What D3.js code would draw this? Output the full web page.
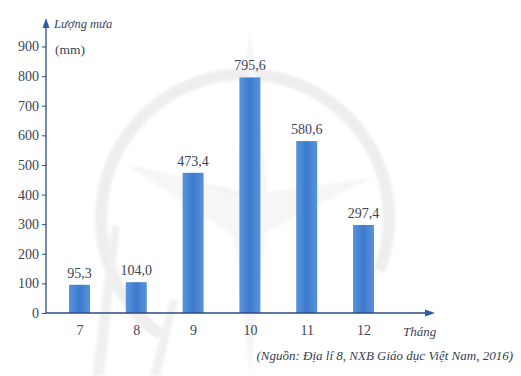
<!DOCTYPE html>
<html>
<head>
<meta charset="utf-8">
<script src="https://cdn.jsdelivr.net/npm/d3@7"></script>
<style>
  html, body { margin: 0; padding: 0; background: #fff; }
  svg { display: block; }
</style>
</head>
<body>
<svg id="chart" width="521" height="376"></svg>
<script>
// Monthly rainfall (mm)
const months = ["7", "8", "9", "10", "11", "12"];
const rainfall = [95.3, 104.0, 473.4, 795.6, 580.6, 297.4];
const valueLabels = ["95,3", "104,0", "473,4", "795,6", "580,6", "297,4"];
const yTicks = [0, 100, 200, 300, 400, 500, 600, 700, 800, 900];

const FONT = "'Liberation Serif', Tinos, 'Times New Roman', serif";

const svg = d3.select("#chart");

const axisColor = "#2d4d7c";
const textColor = "#3c4555";

const y = d3.scaleLinear().domain([0, 900]).range([313, 46.5]);
const x = d3.scalePoint().domain(months).range([79.5, 363.5]);
const barW = 21;

const defs = svg.append("defs");
const grad = defs.append("linearGradient").attr("id", "barGrad")
  .attr("x1", "0").attr("x2", "1").attr("y1", "0").attr("y2", "0");
grad.append("stop").attr("offset", "0%").attr("stop-color", "#5893db");
grad.append("stop").attr("offset", "50%").attr("stop-color", "#3d7acd");
grad.append("stop").attr("offset", "100%").attr("stop-color", "#5893db");

defs.append("filter").attr("id", "soft")
  .append("feGaussianBlur").attr("stdDeviation", 1.5);

// faint background emblem: ring and compass star
const mark = svg.append("g").attr("filter", "url(#soft)");
mark.append("path")
  .attr("d", d3.arc()({innerRadius: 138, outerRadius: 150,
    startAngle: -Math.PI * 0.8, endAngle: Math.PI * 0.62}))
  .attr("transform", "translate(245,218)")
  .attr("fill", "#eeeeee");
mark.append("path")
  .attr("d", "M250,30 L268,192 L372,178 L266,232 L250,376 L234,236 L124,163 L238,192 Z")
  .attr("fill", "#f6f6f6");
mark.append("path")
  .attr("d", "M124,163 L238,192 L250,30 L244,196 Z")
  .attr("fill", "#efefef");
mark.append("path")
  .attr("d", "M92,376 L112,225 L120,225 L104,376 Z M150,376 L170,300 L178,300 L160,376 Z")
  .attr("fill", "#f0f0f0");

const g = svg.append("g");

// bars
g.selectAll("rect.bar")
  .data(rainfall)
  .join("rect")
  .attr("class", "bar")
  .attr("x", (d, i) => x(months[i]) - barW / 2)
  .attr("width", barW)
  .attr("y", d => y(d))
  .attr("height", d => y(0) - y(d))
  .attr("fill", "url(#barGrad)");

// value labels
g.selectAll("text.val")
  .data(rainfall)
  .join("text")
  .attr("class", "val")
  .attr("x", (d, i) => x(months[i]))
  .attr("y", d => y(d) - 7)
  .attr("text-anchor", "middle")
  .attr("fill", textColor)
  .style("font-family", FONT)
  .style("font-size", "14px")
  .text((d, i) => valueLabels[i]);

// y axis
const yAxis = d3.axisLeft(y).tickValues(yTicks).tickSize(4).tickPadding(3).tickFormat(d3.format("d"));
const yG = g.append("g").attr("transform", "translate(46,0)").call(yAxis)
  .attr("font-family", FONT).attr("font-size", 14);
yG.select(".domain").remove();
yG.selectAll(".tick line").attr("stroke", axisColor).attr("stroke-width", 1);
yG.selectAll(".tick text")
  .attr("fill", textColor)
  .style("font-family", FONT)
  .style("font-size", "14px");

g.append("line").attr("x1", 46).attr("x2", 46).attr("y1", 313).attr("y2", 26)
  .attr("stroke", axisColor).attr("stroke-width", 1.3);
g.append("path").attr("d", "M46,18 L42.5,28 L49.5,28 Z").attr("fill", "#2c5ea6");

// x axis
const xAxis = d3.axisBottom(x).tickSize(0).tickPadding(12);
const xG = g.append("g").attr("transform", "translate(0,313)").call(xAxis)
  .attr("font-family", FONT).attr("font-size", 14);
xG.select(".domain").remove();
xG.selectAll(".tick text")
  .attr("fill", textColor)
  .style("font-family", FONT)
  .style("font-size", "14px");
g.append("line").attr("x1", 46).attr("x2", 426).attr("y1", 313).attr("y2", 313)
  .attr("stroke", axisColor).attr("stroke-width", 1.3);
g.append("path").attr("d", "M435,313 L425,309.5 L425,316.5 Z").attr("fill", "#2c5ea6");

// axis titles
g.append("text").attr("x", 54).attr("y", 28)
  .style("font-family", FONT).style("font-size", "12.5px").style("font-style", "italic")
  .attr("fill", textColor)
  .text("Lượng mưa");
g.append("text").attr("x", 55).attr("y", 54)
  .style("font-family", FONT).style("font-size", "13.5px")
  .attr("fill", textColor)
  .text("(mm)");
g.append("text").attr("x", 403).attr("y", 336)
  .style("font-family", FONT).style("font-size", "13px").style("font-style", "italic")
  .attr("fill", textColor)
  .text("Tháng");

// source note
g.append("text").attr("x", 513).attr("y", 360)
  .attr("text-anchor", "end")
  .style("font-family", FONT).style("font-size", "13px").style("font-style", "italic")
  .attr("fill", "#353e4e")
  .text("(Nguồn: Địa lí 8, NXB Giáo dục Việt Nam, 2016)");
</script>
</body>
</html>
